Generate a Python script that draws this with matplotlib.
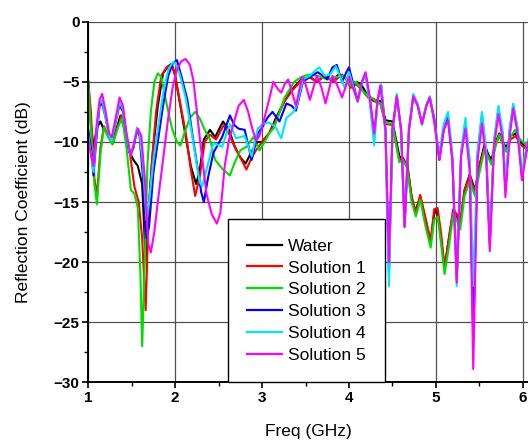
import matplotlib
matplotlib.use("Agg")
import matplotlib.pyplot as plt
from matplotlib.ticker import MultipleLocator

plt.rcParams['font.family'] = ['Liberation Sans', 'DejaVu Sans']

# ---------------- data ----------------
water_f = [1.00,1.03,1.06,1.10,1.14,1.18,1.22,1.27,1.31,1.37,1.42,1.47,1.52,1.57,1.62,1.66,1.70,1.74,1.80,1.86,1.92,1.96,2.00,2.06,2.12,2.18,2.24,2.28,2.33,2.40,2.46,2.55,2.62,2.68,2.75,2.81,2.88,2.95,3.00,3.08,3.16,3.25,3.35,3.45,3.55,3.63,3.72,3.80,3.88,3.95,4.02,4.08,4.14,4.22,4.30,4.36,4.42,4.50,4.58,4.62,4.67,4.72,4.76,4.82,4.88,4.94,4.98,5.01,5.05,5.10,5.15,5.20,5.24,5.28,5.33,5.39,5.45,5.50,5.56,5.60,5.64,5.69,5.73,5.77,5.81,5.86,5.92,5.97,6.06]
water_v = [-5.0,-8.5,-10.5,-8.8,-8.3,-9.0,-9.2,-10.0,-9.3,-7.8,-9.0,-10.8,-11.5,-12.0,-13.5,-19.8,-15.0,-11.0,-7.0,-4.3,-3.7,-3.5,-4.5,-7.0,-9.5,-12.0,-13.5,-12.5,-9.8,-9.0,-9.6,-8.3,-9.0,-10.3,-11.3,-11.8,-10.8,-10.0,-10.0,-9.3,-8.0,-6.7,-5.6,-4.8,-4.6,-5.0,-4.5,-4.9,-4.4,-4.6,-5.3,-5.0,-5.2,-6.2,-6.5,-6.6,-8.2,-8.3,-11.2,-11.5,-11.8,-14.5,-15.8,-14.6,-16.5,-18.3,-16.0,-15.6,-17.5,-20.5,-18.0,-15.7,-16.2,-16.8,-14.0,-12.7,-14.0,-12.0,-10.2,-11.0,-11.5,-10.0,-9.3,-10.0,-10.5,-9.5,-9.3,-10.0,-10.5]

sol1_f = [1.00,1.03,1.07,1.10,1.14,1.18,1.23,1.28,1.33,1.38,1.43,1.48,1.53,1.58,1.62,1.66,1.69,1.73,1.78,1.84,1.90,1.95,1.99,2.05,2.12,2.18,2.23,2.28,2.34,2.40,2.47,2.56,2.63,2.69,2.75,2.82,2.88,2.93,3.00,3.08,3.16,3.26,3.35,3.45,3.54,3.63,3.73,3.82,3.92,3.97,4.02,4.08,4.14,4.22,4.28,4.36,4.42,4.50,4.58,4.62,4.67,4.72,4.77,4.82,4.88,4.94,4.98,5.02,5.06,5.10,5.15,5.20,5.24,5.28,5.33,5.39,5.45,5.50,5.56,5.64,5.69,5.73,5.81,5.86,5.92,5.97,6.06]
sol1_v = [-5.0,-7.5,-13.0,-14.5,-10.5,-8.7,-9.5,-10.2,-9.0,-7.8,-9.3,-11.0,-13.7,-15.0,-18.0,-24.0,-17.0,-12.0,-7.5,-4.5,-3.8,-3.6,-4.2,-6.5,-9.2,-12.3,-14.5,-13.0,-10.0,-9.4,-9.8,-8.6,-9.5,-10.5,-11.3,-12.3,-11.3,-10.7,-10.0,-9.3,-8.2,-6.6,-5.7,-4.9,-4.6,-5.0,-4.5,-5.0,-4.4,-4.8,-5.5,-5.2,-5.6,-6.3,-6.6,-6.8,-8.5,-8.6,-11.6,-11.3,-12.0,-14.6,-15.9,-14.4,-16.3,-18.3,-15.6,-15.5,-17.6,-20.5,-18.0,-15.6,-16.0,-16.8,-14.0,-12.8,-14.2,-12.0,-10.5,-11.8,-10.2,-9.5,-10.8,-9.8,-9.5,-10.2,-10.7]

sol2_f = [1.00,1.03,1.07,1.10,1.14,1.18,1.22,1.28,1.34,1.39,1.44,1.49,1.53,1.57,1.60,1.62,1.65,1.68,1.72,1.76,1.80,1.84,1.90,1.96,2.02,2.06,2.11,2.17,2.23,2.28,2.34,2.40,2.46,2.55,2.63,2.68,2.75,2.82,2.90,2.97,3.03,3.08,3.14,3.26,3.37,3.45,3.54,3.64,3.75,3.85,3.94,4.02,4.08,4.14,4.22,4.28,4.36,4.42,4.50,4.58,4.62,4.67,4.72,4.77,4.82,4.88,4.94,4.98,5.02,5.06,5.10,5.15,5.20,5.24,5.28,5.33,5.39,5.45,5.50,5.56,5.64,5.69,5.73,5.81,5.86,5.91,5.97,6.06]
sol2_v = [-5.0,-9.0,-13.5,-15.2,-11.0,-8.8,-9.5,-10.2,-8.8,-8.0,-10.5,-14.0,-14.3,-15.5,-21.0,-27.0,-20.0,-12.0,-7.5,-5.0,-4.3,-4.6,-6.8,-8.8,-10.0,-10.3,-9.2,-8.0,-7.5,-8.0,-9.0,-9.8,-11.5,-12.3,-12.8,-11.8,-10.7,-10.4,-9.6,-10.7,-10.0,-9.3,-8.8,-6.3,-5.0,-4.6,-4.4,-4.5,-4.8,-4.6,-4.5,-5.3,-5.0,-5.6,-6.2,-6.4,-6.8,-8.4,-8.5,-11.7,-11.5,-12.2,-15.0,-16.2,-14.8,-17.0,-18.8,-16.5,-16.2,-18.5,-21.0,-18.7,-16.0,-16.5,-17.3,-14.5,-13.3,-14.5,-12.6,-10.6,-11.9,-10.2,-9.4,-10.8,-9.6,-9.0,-9.8,-10.4]

sol3_f = [1.00,1.03,1.06,1.09,1.13,1.16,1.20,1.24,1.27,1.31,1.36,1.40,1.44,1.48,1.52,1.56,1.59,1.63,1.67,1.70,1.75,1.80,1.86,1.92,1.97,2.02,2.07,2.14,2.20,2.25,2.30,2.33,2.38,2.44,2.54,2.63,2.68,2.73,2.80,2.88,2.95,3.01,3.06,3.12,3.20,3.28,3.34,3.39,3.47,3.55,3.64,3.70,3.75,3.81,3.86,3.92,3.97,4.00,4.05,4.10,4.15,4.19,4.24,4.29,4.33,4.37,4.42,4.46,4.50,4.55,4.60,4.64,4.69,4.74,4.79,4.84,4.89,4.93,4.98,5.04,5.09,5.14,5.19,5.24,5.29,5.34,5.39,5.43,5.48,5.53,5.58,5.62,5.67,5.72,5.77,5.80,5.85,5.89,5.94,5.99,6.06]
sol3_v = [-9.0,-10.5,-12.8,-10.0,-7.0,-6.8,-8.0,-9.5,-9.8,-8.5,-6.9,-7.5,-9.5,-11.0,-10.5,-9.0,-9.5,-13.0,-18.0,-17.0,-12.5,-10.0,-7.0,-4.5,-3.5,-3.2,-4.5,-6.5,-9.5,-11.8,-14.2,-15.0,-12.9,-10.9,-9.6,-7.8,-8.6,-8.9,-9.0,-11.5,-9.3,-8.7,-8.0,-7.5,-8.3,-6.8,-7.0,-7.4,-5.0,-4.6,-4.2,-4.5,-4.8,-3.8,-3.6,-5.0,-4.2,-3.8,-5.2,-6.6,-5.0,-4.3,-6.5,-9.5,-6.5,-5.3,-9.0,-21.0,-9.0,-6.2,-9.0,-17.0,-9.0,-6.2,-6.9,-8.5,-7.0,-6.3,-8.0,-11.5,-9.0,-8.0,-11.5,-21.5,-11.0,-8.5,-12.0,-26.0,-11.0,-7.8,-11.0,-18.5,-10.0,-7.3,-9.5,-14.0,-9.0,-7.0,-9.0,-12.8,-10.0]

sol4_f = [1.00,1.03,1.06,1.09,1.13,1.16,1.20,1.24,1.27,1.31,1.36,1.40,1.44,1.48,1.52,1.56,1.59,1.63,1.67,1.70,1.75,1.80,1.86,1.92,1.97,2.00,2.05,2.12,2.18,2.24,2.28,2.31,2.36,2.44,2.54,2.63,2.70,2.80,2.88,2.95,3.01,3.08,3.15,3.22,3.28,3.35,3.40,3.47,3.55,3.62,3.66,3.72,3.78,3.85,3.90,3.95,4.00,4.05,4.10,4.15,4.19,4.24,4.29,4.33,4.37,4.42,4.46,4.50,4.55,4.60,4.64,4.69,4.74,4.79,4.84,4.89,4.93,4.98,5.04,5.09,5.14,5.19,5.24,5.29,5.34,5.39,5.43,5.48,5.53,5.58,5.62,5.67,5.72,5.77,5.80,5.85,5.89,5.94,5.99,6.06]
sol4_v = [-9.5,-11.0,-12.5,-9.5,-6.8,-6.5,-8.0,-9.5,-9.9,-8.4,-6.7,-7.3,-9.5,-11.0,-10.3,-8.8,-9.3,-12.0,-16.5,-15.0,-11.5,-9.0,-6.0,-4.0,-3.4,-3.4,-4.3,-6.3,-8.8,-11.5,-13.3,-13.7,-12.3,-10.1,-10.4,-8.5,-9.7,-9.5,-11.2,-8.9,-8.5,-8.4,-8.7,-9.7,-8.0,-7.6,-7.0,-4.8,-4.5,-4.0,-3.8,-4.5,-4.4,-3.7,-4.6,-5.5,-4.2,-5.4,-6.7,-5.1,-4.4,-6.8,-10.3,-6.6,-5.2,-9.5,-22.0,-9.5,-6.0,-9.2,-17.0,-9.0,-6.0,-6.8,-8.6,-6.9,-6.2,-8.2,-11.0,-8.5,-7.5,-11.0,-22.0,-10.8,-8.0,-11.5,-22.0,-10.8,-7.5,-10.8,-18.0,-9.8,-7.0,-9.2,-13.5,-8.8,-6.8,-8.8,-12.5,-9.8]

sol5_f = [1.00,1.03,1.06,1.09,1.13,1.16,1.20,1.24,1.27,1.31,1.36,1.40,1.44,1.49,1.53,1.57,1.61,1.65,1.69,1.72,1.76,1.80,1.86,1.92,1.97,2.02,2.07,2.12,2.17,2.21,2.25,2.29,2.33,2.36,2.42,2.48,2.52,2.57,2.62,2.67,2.73,2.79,2.84,2.88,2.93,2.97,3.02,3.08,3.13,3.18,3.22,3.26,3.30,3.35,3.39,3.46,3.50,3.55,3.63,3.68,3.73,3.81,3.86,3.92,4.00,4.05,4.10,4.15,4.19,4.24,4.29,4.33,4.36,4.42,4.46,4.50,4.55,4.60,4.64,4.69,4.74,4.79,4.84,4.89,4.93,4.98,5.04,5.09,5.14,5.19,5.24,5.29,5.34,5.39,5.43,5.48,5.53,5.58,5.62,5.67,5.72,5.77,5.80,5.85,5.89,5.94,5.99,6.06]
sol5_v = [-9.8,-11.0,-12.0,-9.0,-6.5,-6.0,-7.5,-9.3,-9.6,-8.2,-6.3,-7.0,-9.3,-11.2,-10.0,-8.9,-9.5,-13.0,-18.5,-19.2,-17.5,-15.0,-11.5,-8.0,-5.5,-4.0,-3.3,-3.1,-3.6,-4.9,-7.5,-10.1,-12.5,-14.3,-16.0,-16.8,-15.9,-12.0,-9.8,-8.5,-7.0,-6.5,-7.5,-8.7,-9.9,-9.5,-8.2,-6.5,-5.0,-5.6,-5.9,-5.2,-4.8,-6.0,-7.0,-4.6,-5.2,-6.5,-4.5,-5.4,-6.8,-4.5,-5.2,-6.3,-4.6,-5.6,-6.6,-5.0,-4.2,-6.3,-9.3,-6.5,-5.3,-9.0,-20.0,-9.0,-6.2,-9.0,-17.1,-9.0,-6.2,-7.0,-8.5,-7.0,-6.3,-8.3,-11.5,-9.0,-8.2,-11.5,-21.7,-11.2,-8.9,-12.5,-28.9,-11.5,-8.5,-11.5,-19.1,-10.3,-7.7,-9.8,-14.6,-9.5,-7.2,-9.3,-13.2,-10.0]

series = [
    ("Water", water_f, water_v, "#000000"),
    ("Solution 1", sol1_f, sol1_v, "#ff0000"),
    ("Solution 2", sol2_f, sol2_v, "#00dd00"),
    ("Solution 3", sol3_f, sol3_v, "#0000ff"),
    ("Solution 4", sol4_f, sol4_v, "#00e5ff"),
    ("Solution 5", sol5_f, sol5_v, "#ff00ff"),
]

x_ticks = [1, 2, 3, 4, 5, 6]
y_ticks = [0, -5, -10, -15, -20, -25, -30]

# ---------------- figure ----------------
fig = plt.figure(figsize=(5.28, 4.41), dpi=100)
ax = fig.add_axes([0.1672, 0.1331, 1.0 - 0.1672, 0.9508 - 0.1331])

for name, f, v, c in series:
    ax.plot(f, v, color=c, lw=1.5, label=name, solid_joinstyle='round')

ax.set_xlim(1, 6.06)
ax.set_ylim(-30, 0)
ax.set_xticks(x_ticks)
ax.set_yticks(y_ticks)
ax.xaxis.set_minor_locator(MultipleLocator(0.5))
ax.yaxis.set_minor_locator(MultipleLocator(2.5))
ax.set_axisbelow(True)
ax.grid(True, which='major', color='#505050', lw=0.9)

for s in ['top', 'right']:
    ax.spines[s].set_visible(False)
for s in ['left', 'bottom']:
    ax.spines[s].set_linewidth(1.4)
    ax.spines[s].set_color('black')

ax.tick_params(which='major', direction='out', length=4.3, width=1.2,
               labelsize=11, pad=2)
ax.tick_params(which='minor', direction='out', length=2.6, width=1.0)
for lab in ax.get_xticklabels() + ax.get_yticklabels():
    lab.set_fontweight('bold')

ax.set_xlabel("Freq (GHz)", fontsize=12.5, labelpad=14)
ax.set_ylabel("Reflection Coefficient (dB)", fontsize=12.5, labelpad=16)

leg = ax.legend(loc='lower left', bbox_to_anchor=(0.318, 0.0),
                borderaxespad=0, fontsize=12.5, frameon=True, fancybox=False,
                edgecolor='black', framealpha=1, handlelength=2.0,
                handletextpad=0.35, labelspacing=0.39, borderpad=1.1)
leg.get_frame().set_linewidth(1.0)
for line in leg.get_lines():
    line.set_linewidth(1.6)

fig.savefig("out.png", dpi=100)
